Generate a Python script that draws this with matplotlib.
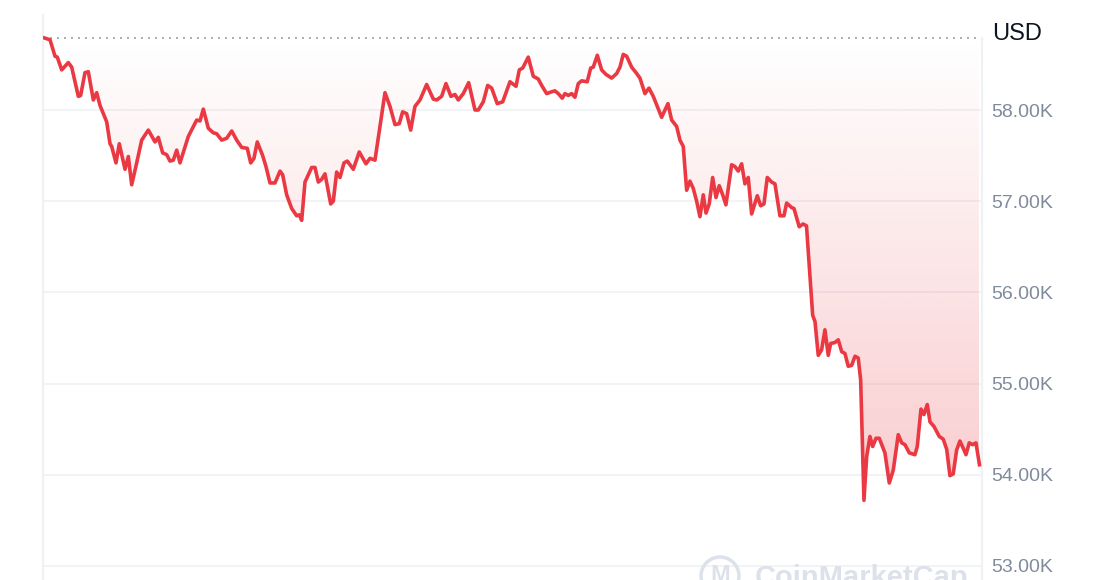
import numpy as np
import matplotlib
matplotlib.use('Agg')
import matplotlib.pyplot as plt
from matplotlib.patches import Circle
from matplotlib.ticker import FuncFormatter

plt.rcParams['font.family'] = ['Liberation Sans', 'DejaVu Sans']

# minutes since start of the 24h window, price in USD
minutes = [0, 8.5, 16.2, 19.7, 26.5, 36.7, 41.9, 52.1, 55.7, 62.4, 67.5, 75.2, 80.4, 85.5, 95.8,
           100.9, 103.5, 110.1, 115.2, 124.0, 129.1, 134.3, 142.0, 149.7, 159.9, 170.2, 175.3,
           182.0, 188.2, 193.3, 198.4, 203.6, 208.7, 221.5, 234.4, 239.5, 244.6,
           252.3, 260.0, 265.2, 272.9, 280.6, 288.3, 296.0, 303.7, 312.3, 317.6, 322.6, 327.7,
           336.0, 341.1, 347.3, 355.0, 362.7, 366.8, 373.0, 380.7, 388.4, 392.4, 396.1, 401.2,
           411.5, 416.6, 421.7, 426.9, 432.0, 440.8, 444.8, 450.0, 455.1, 461.3, 466.4, 475.6,
           484.8, 495.1, 501.3, 509.0,
           524.4, 532.1, 539.8, 546.4, 551.6, 557.8, 564.0, 570.6, 578.3, 588.6, 598.8, 604.0,
           611.7, 618.3, 626.0, 632.2, 637.3, 645.0, 653.3, 663.0, 668.1, 675.8, 682.6, 688.7,
           697.3, 705.7, 716.9, 726.2, 731.3, 736.5, 745.1,
           752.8, 760.5, 765.7, 773.4, 781.1, 786.2, 791.3, 797.4, 801.6, 806.7, 811.9, 817.0,
           822.1, 827.3, 835.9, 841.2, 845.2, 851.4, 858.1, 864.8, 873.5, 881.2, 886.3, 891.4,
           896.6, 904.3, 911.0, 917.1, 924.8, 931.0, 937.6, 943.8, 950.5, 960.2, 965.9, 973.6,
           978.7, 983.8, 989.0, 994.1, 999.2, 1004.4, 1009.5, 1014.6, 1018.8, 1023.8, 1029.1,
           1034.2, 1039.2, 1044.5, 1049.5, 1058.3, 1063.4, 1068.5, 1073.7, 1078.8, 1083.9,
           1089.1, 1097.8, 1103.0, 1108.1, 1113.2, 1119.9, 1125.0, 1132.7, 1138.9, 1143.0,
           1150.7, 1154.3, 1162.4, 1168.2, 1173.6, 1183.1, 1186.7, 1191.7, 1196.9, 1202.0,
           1207.1, 1210.8, 1217.4, 1222.5, 1227.8, 1232.8, 1237.9, 1243.2, 1248.3, 1253.3,
           1257.0, 1262.1, 1266.3, 1271.3, 1275.5, 1280.6, 1285.7, 1294.4, 1301.1, 1307.2,
           1314.9, 1320.2, 1325.3, 1331.9, 1340.6, 1344.2, 1349.9, 1354.5, 1359.6, 1363.8,
           1369.9, 1378.1, 1384.2, 1389.5, 1394.5, 1399.6, 1404.8, 1409.9, 1415.0, 1419.2,
           1424.3, 1429.5, 1434.6, 1440]

prices = [58790, 58770, 58590, 58580, 58440, 58520, 58470, 58150, 58160, 58410, 58420, 58110,
          58190, 58050, 57870, 57630, 57600, 57420, 57630, 57350, 57490, 57180, 57420, 57670,
          57780, 57650, 57700, 57530, 57510, 57440, 57450, 57560, 57420, 57710, 57890, 57880, 58010,
          57800, 57750, 57740, 57670, 57690, 57770, 57670, 57590, 57580, 57420, 57470, 57650,
          57500, 57380, 57200, 57200, 57330, 57290, 57070, 56920, 56840, 56850, 56790, 57210,
          57370, 57370, 57210, 57240, 57300, 56970, 57000, 57320, 57260, 57420, 57440, 57350,
          57540, 57410, 57470, 57450,
          58190, 58040, 57840, 57850, 57980, 57960, 57780, 58040, 58110, 58280, 58120, 58110,
          58150, 58290, 58150, 58170, 58110, 58180, 58300, 58000, 58000, 58090, 58270, 58240,
          58070, 58090, 58310, 58260, 58440, 58460, 58580,
          58370, 58340, 58270, 58180, 58200, 58210, 58180, 58130, 58180, 58160, 58180, 58140,
          58290, 58320, 58310, 58460, 58470, 58600, 58440, 58390, 58350, 58400, 58470, 58610,
          58590, 58470, 58410, 58350, 58180, 58240, 58150, 58040, 57920, 58070, 57890, 57820,
          57670, 57600, 57120, 57220, 57140, 57000, 56830, 57070, 56870, 56970, 57260,
          57040, 57170, 57070, 56960, 57400, 57380, 57330, 57410, 57190, 57260,
          56860, 57060, 56950, 56970, 57260, 57210, 57190, 56840, 56840, 56980,
          56930, 56920, 56720, 56750, 56730, 55750, 55680, 55310, 55370, 55590,
          55310, 55440, 55450, 55480, 55350, 55330, 55190, 55200, 55300, 55280,
          55040, 53720, 54200, 54420, 54310, 54400, 54400, 54240, 53910, 54050,
          54440, 54350, 54330, 54240, 54220, 54310, 54720, 54660, 54770, 54580,
          54530, 54420, 54390, 54280, 53990, 54010, 54270, 54370, 54290, 54220,
          54350, 54330, 54350, 54110]

y_ticks = [53000, 54000, 55000, 56000, 57000, 58000]

t = np.array(minutes)
p = np.array(prices, dtype=float)
base = p[0]

red = '#ea3943'
grid_col = '#eff2f5'

fig = plt.figure(figsize=(11, 5.8), dpi=100)
ax = fig.add_axes([43 / 1100, 0, 939 / 1100, 1 - 15 / 580])
ax.set_xlim(-2.3, 1443.9)
ax.set_ylim(52846, 59042)

# gradient fill between the line and the opening price
poly = ax.fill_between(t, p, base, facecolor='none', edgecolor='none')
grad = np.zeros((256, 1, 4))
grad[..., :3] = matplotlib.colors.to_rgb(red)
grad[:, 0, 3] = np.linspace(0.27, 0.0, 256)
im = ax.imshow(grad, extent=[t[0], t[-1], 53500, base], aspect='auto',
               origin='lower', zorder=1, interpolation='bilinear')
im.set_clip_path(poly.get_paths()[0], transform=ax.transData)

ax.plot(t, p, color=red, lw=2.6, zorder=3, solid_joinstyle='round')
ax.axhline(base, color='#a6adba', lw=1.4, ls=(0, (1, 2.6)), zorder=2)

ax.set_xlim(-2.3, 1443.9)
ax.set_ylim(52846, 59042)

for s in ['top', 'bottom', 'right']:
    ax.spines[s].set_visible(False)
ax.spines['left'].set_color(grid_col)
ax.spines['left'].set_linewidth(1.6)
ymax_frac = (base - 52846) / (59042 - 52846)
ax.axvline(1443.9, ymin=0, ymax=ymax_frac, color=grid_col, lw=1.6, clip_on=False)

ax.set_xticks([])
ax.set_yticks(y_ticks)
ax.yaxis.tick_right()
ax.yaxis.set_major_formatter(FuncFormatter(lambda v, pos: f'{v / 1000:.2f}K'))
ax.tick_params(axis='y', length=0, pad=7, labelsize=14, labelcolor='#808a9d')
ax.grid(axis='y', color=grid_col, lw=1.2, zorder=0)
ax.set_axisbelow(True)

fig.text(992 / 1100, 1 - 34 / 580, 'USD', ha='left', va='center', fontsize=17, color='#0d1421')

# watermark, cut by the bottom edge as in the source
fig.add_artist(Circle((7.2, 0.04), 0.19, transform=fig.dpi_scale_trans,
                      fill=False, ec='#dde2ea', lw=2.5))
fig.text(720 / 1100, 0.04 * 100 / 580, 'M', ha='center', va='center', fontsize=17,
         color='#dde2ea', fontweight='bold')
fig.text(755 / 1100, 1 - 564 / 580, 'CoinMarketCap', ha='left', va='top', fontsize=21,
         color='#dde2ea', fontweight='bold')

fig.savefig('out.png', dpi=100)
